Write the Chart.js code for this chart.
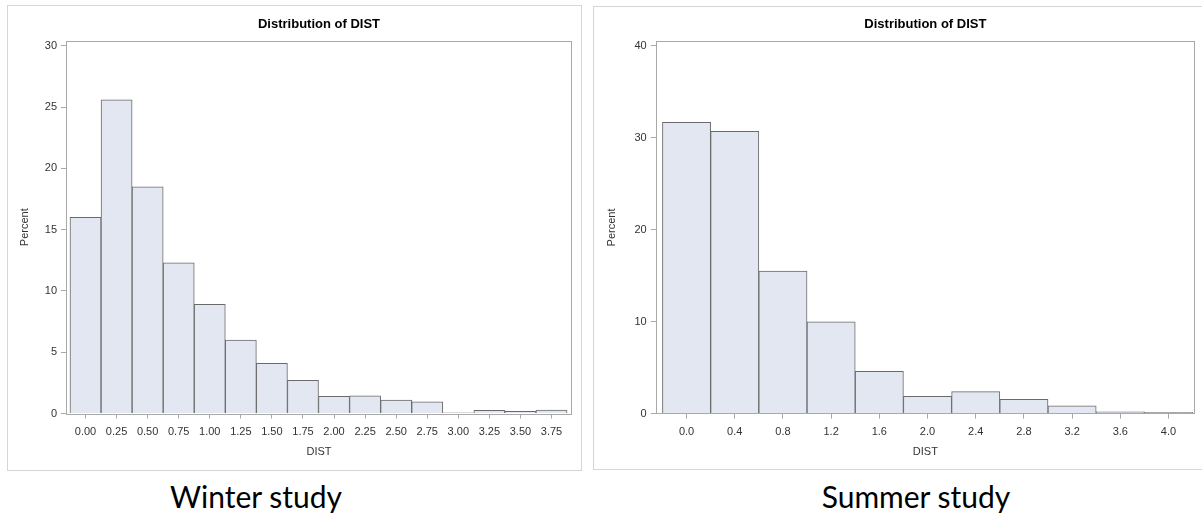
<!DOCTYPE html>
<html>
<head>
<meta charset="utf-8">
<script src="https://cdn.jsdelivr.net/npm/chart.js@4.4.1/dist/chart.umd.min.js"></script>
<style>
  html, body { margin: 0; padding: 0; background: #ffffff; width: 1202px; height: 516px; overflow: hidden; position: relative; }
  .panel { position: absolute; border: 1px solid #d6d6d6; background: #fff; box-sizing: content-box; }
  #p1 { left: 7px; top: 5px; width: 573px; height: 464px; }
  #p2 { left: 593px; top: 6px; width: 614px; height: 462px; }
  canvas { display: block; }
  .caption { position: absolute; font-family: "Lato", "Open Sans", sans-serif; font-size: 30px; color: #000; white-space: nowrap; transform: translateX(-50%); line-height: 1; }
</style>
</head>
<body>
<div class="panel" id="p1"><canvas id="c1" width="573" height="464"></canvas></div>
<div class="panel" id="p2"><canvas id="c2" width="610" height="462"></canvas></div>
<div class="caption" id="cap1" style="left:256px; top:481px;">Winter study</div>
<div class="caption" id="cap2" style="left:916px; top:481px;">Summer study</div>
<script>
// ---- data ----
const winterBins    = [0.00, 0.25, 0.50, 0.75, 1.00, 1.25, 1.50, 1.75, 2.00, 2.25, 2.50, 2.75, 3.00, 3.25, 3.50, 3.75];
const winterPercent = [16.0, 25.6, 18.5, 12.3, 8.9, 6.0, 4.1, 2.7, 1.4, 1.45, 1.1, 0.95, 0.06, 0.25, 0.17, 0.28];
const winterYTicks  = [0, 5, 10, 15, 20, 25, 30];

const summerBins    = [0.0, 0.4, 0.8, 1.2, 1.6, 2.0, 2.4, 2.8, 3.2, 3.6, 4.0];
const summerPercent = [31.7, 30.7, 15.5, 10.0, 4.6, 1.9, 2.4, 1.55, 0.85, 0.2, 0.15];
const summerYTicks  = [0, 10, 20, 30, 40];

const titleText = 'Distribution of DIST';
const xTitle = 'DIST';
const yTitle = 'Percent';

const FONT = '"Liberation Sans", Arial, sans-serif';
const frameColor = '#a9a9a9';

const framePlugin = {
  id: 'frame',
  afterDraw(chart) {
    const a = chart.chartArea, ctx = chart.ctx;
    ctx.save();
    ctx.strokeStyle = frameColor;
    ctx.lineWidth = 1;
    ctx.strokeRect(Math.round(a.left) + 0.5, Math.round(a.top) + 0.5,
                   Math.round(a.right - a.left) - 1, Math.round(a.bottom - a.top));
    ctx.restore();
  }
};

function makeChart(id, bins, values, yTicks, cfg) {
  return new Chart(document.getElementById(id), {
    type: 'bar',
    data: {
      datasets: [{
        data: bins.map((x, i) => ({ x: x, y: values[i] })),
        backgroundColor: '#e3e7f1',
        borderColor: '#6a6a6a',
        borderWidth: 1,
        barPercentage: 1,
        categoryPercentage: 1
      }]
    },
    options: {
      responsive: false,
      animation: false,
      devicePixelRatio: 1,
      layout: { padding: { left: 0, top: 0, right: 9, bottom: 0 } },
      plugins: {
        legend: { display: false },
        tooltip: { enabled: false },
        title: {
          display: true,
          text: titleText,
          fullSize: false,
          color: '#000',
          font: { family: FONT, size: 13, weight: 'bold', lineHeight: 1.2 },
          padding: { top: cfg.titleTop, bottom: cfg.titleBottom }
        }
      },
      scales: {
        x: {
          type: 'linear',
          offset: false,
          min: cfg.xmin,
          max: cfg.xmax,
          afterBuildTicks: (axis) => { axis.ticks = bins.map(v => ({ value: v })); },
          afterFit: (axis) => { axis.height = cfg.xHeight; },
          grid: { offset: false, drawOnChartArea: false, drawTicks: true, tickLength: 5, tickColor: frameColor },
          border: { display: false },
          ticks: {
            color: '#333',
            font: { family: FONT, size: 11 },
            padding: 7,
            maxRotation: 0,
            autoSkip: false,
            callback: (v) => Number(v).toFixed(cfg.dec)
          },
          title: {
            display: true, text: xTitle, color: '#333',
            font: { family: FONT, size: 11, lineHeight: 1.2 },
            padding: { top: 0, bottom: cfg.xTitlePad }
          }
        },
        y: {
          min: 0,
          max: cfg.ymax,
          afterBuildTicks: (axis) => { axis.ticks = yTicks.map(v => ({ value: v })); },
          afterFit: (axis) => { axis.width = cfg.yWidth; },
          grid: { drawOnChartArea: false, drawTicks: true, tickLength: 5, tickColor: frameColor },
          border: { display: false },
          ticks: {
            color: '#333',
            font: { family: FONT, size: 11 },
            padding: 4
          },
          title: {
            display: true, text: yTitle, color: '#333',
            font: { family: FONT, size: 11, lineHeight: 1.2 },
            padding: { top: cfg.yTitlePad, bottom: 0 }
          }
        }
      }
    },
    plugins: [framePlugin]
  });
}

makeChart('c1', winterBins, winterPercent, winterYTicks, {
  xmin: -0.157, xmax: 3.915, ymax: 30.4, dec: 2,
  yWidth: 58, xHeight: 56.5, titleTop: 10.2, titleBottom: 9.2,
  xTitlePad: 11.4, yTitlePad: 10.4
});
makeChart('c2', summerBins, summerPercent, summerYTicks, {
  xmin: -0.256, xmax: 4.22, ymax: 40.5, dec: 1,
  yWidth: 61.7, xHeight: 55.3, titleTop: 9.5, titleBottom: 9.2,
  xTitlePad: 10.4, yTitlePad: 11.4
});
</script>
</body>
</html>
